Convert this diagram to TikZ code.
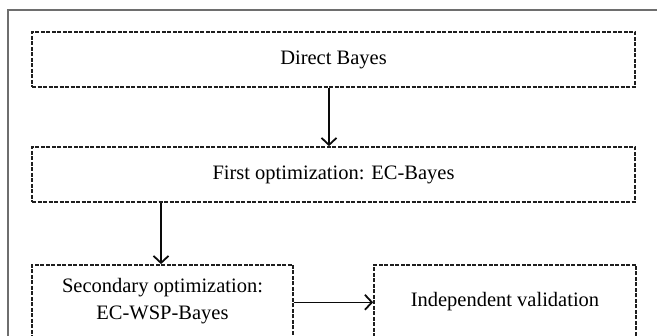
\documentclass[tikz,border=0pt]{standalone}
\usepackage{fontspec}
\setmainfont{Liberation Serif}
\usepackage{xcolor}
\usetikzlibrary{arrows.meta}
\definecolor{FrameGray}{HTML}{6E6E6E}
\definecolor{BoxLine}{HTML}{1E1E1E}
\definecolor{ArrowLine}{HTML}{0A0A0A}

\tikzset{
	stagebox/.style={draw=BoxLine, line width=1.7pt, dash pattern=on 4pt off 1.5pt,
		inner sep=0pt, align=center, font=\fontsize{20.5}{27}\selectfont},
	flow/.style={-{Straight Barb[length=7pt,width=15pt,line width=1.8pt]}, line width=2pt, color=ArrowLine}
}

\begin{document}
\begin{tikzpicture}[x=1pt, y=-1pt]
		\clip (0,0) rectangle (657,336);
		% outer frame, cut off at the page edge
		\draw[FrameGray, line width=1.6pt] (8,400) -- (8,10) -- (700,10);
		
		% Draw the stages
		\node[stagebox, minimum width=603pt, minimum height=55pt] (direct) at (333.5,59.5) {Direct Bayes};
		\node[stagebox, minimum width=603pt, minimum height=55pt] (first) at (333.5,174.5) {First optimization: EC-Bayes};
		\node[stagebox, minimum width=261pt, minimum height=73pt] (second) at (162.5,301.5) {Secondary optimization:\\EC-WSP-Bayes};
		\node[stagebox, minimum width=262pt, minimum height=73pt] (valid) at (505,301.5) {Independent validation};
		
		\draw[flow] ([xshift=-4.5pt]direct.south) -- ([xshift=-4.5pt]first.north);
		\draw[flow] ([xshift=-1.5pt]second.north |- first.south) -- ([xshift=-1.5pt]second.north);
		\draw[flow, line width=1.5pt] ([yshift=-0.8pt]second.east) -- ([yshift=-0.8pt]valid.west);
	\end{tikzpicture}
\end{document}
